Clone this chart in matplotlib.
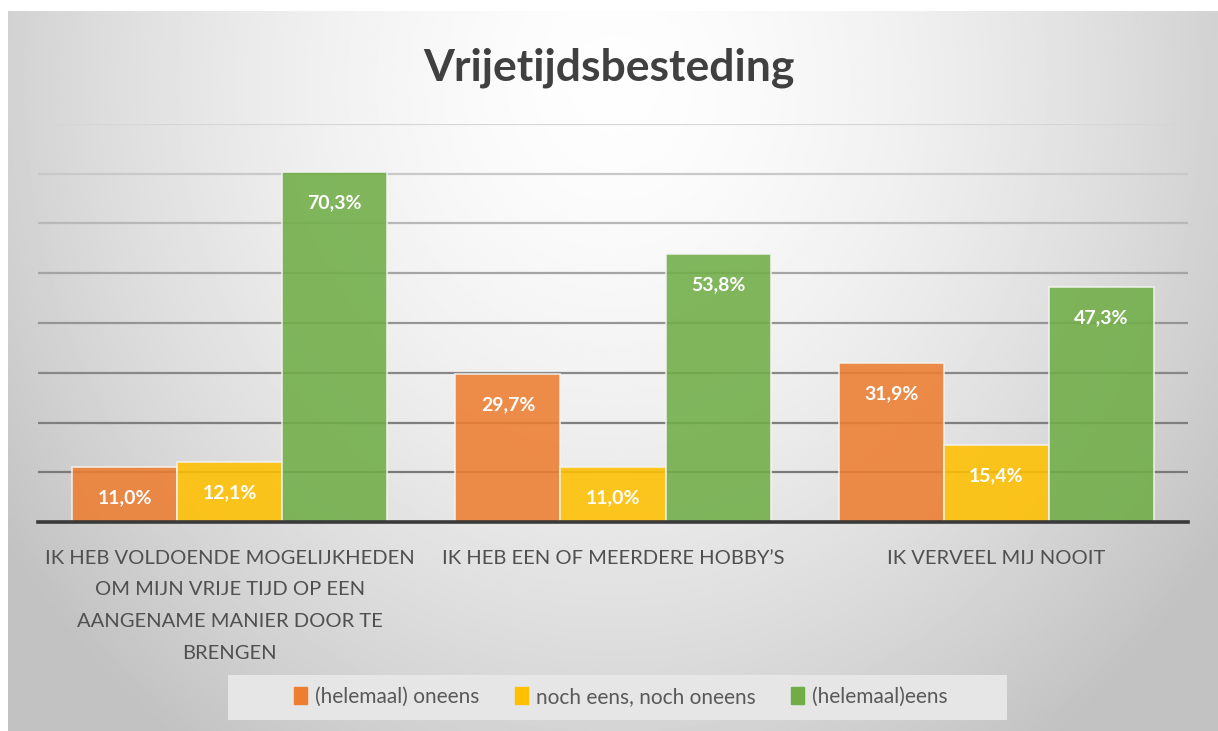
import numpy as np
import matplotlib
import matplotlib.pyplot as plt
from matplotlib.patches import Patch, Rectangle

matplotlib.rcParams['font.family'] = ['Lato', 'DejaVu Sans']

# data
categories = ['IK HEB VOLDOENDE MOGELIJKHEDEN\nOM MIJN VRIJE TIJD OP EEN\nAANGENAME MANIER DOOR TE\nBRENGEN',
              'IK HEB EEN OF MEERDERE HOBBY\u2019S',
              'IK VERVEEL MIJ NOOIT']
series = ['(helemaal) oneens', 'noch eens, noch oneens', '(helemaal)eens']
oneens = [11.0, 29.7, 31.9]
neutraal = [12.1, 11.0, 15.4]
eens = [70.3, 53.8, 47.3]
colors = ['#ED7D31', '#FFC000', '#70AD47']

W, H = 1218, 731
fig = plt.figure(figsize=(W / 100, H / 100), dpi=100)
fig.patch.set_facecolor('white')

# radial grey background
bg = fig.add_axes([8 / W, 0, 1 - 8 / W, 1 - 11 / H])
yy, xx = np.mgrid[0:1:300j, 0:1:500j]
r = np.sqrt(((xx - 0.5) / 0.62) ** 2 + ((yy - 0.1) / 1.15) ** 2)
shade = np.clip(0.995 - 0.24 * r ** 1.6, 0.76, 1)
bg.imshow(shade, cmap='gray', vmin=0, vmax=1, aspect='auto', extent=[0, 1, 1, 0])
bg.axis('off')

ax = fig.add_axes([38 / W, 1 - 522 / H, 1150 / W, (522 - 124) / H])
ax.set_facecolor('none')

x = np.arange(len(categories))
w = 0.274
vals = [oneens, neutraal, eens]
for i, (v, c) in enumerate(zip(vals, colors)):
    bars = ax.bar(x + (i - 1) * w, v, w, color=c, alpha=0.88, edgecolor='#f4f4f4',
                  linewidth=1.2, zorder=3, label=series[i])
    for b, val in zip(bars, v):
        ax.annotate(f'{val:.1f}%'.replace('.', ','), (b.get_x() + w / 2, val),
                    xytext=(0, -16), textcoords='offset points', ha='center', va='top',
                    color='white', fontsize=14, fontweight='bold', zorder=4)

ax.set_ylim(0, 80)
ax.set_xlim(-0.5, 2.5)
ax.set_yticks(np.arange(10, 90, 10))
ax.set_yticklabels([])
ax.tick_params(axis='both', length=0)
ax.grid(axis='y', linewidth=1.6, zorder=0)
greys = ['#7a7a7a', '#7f7f7f', '#888888', '#959595', '#a5a5a5', '#b8b8b8', '#c9c9c9', '#d6d6d6']
for gl, gc in zip(ax.get_ygridlines(), greys):
    gl.set_color(gc)
for s in ['left', 'right', 'top']:
    ax.spines[s].set_visible(False)
ax.spines['bottom'].set_color('#3a3a3a')
ax.spines['bottom'].set_linewidth(2.6)
ax.spines['bottom'].set_zorder(5)

ax.set_xticks(x)
ax.set_xticklabels(categories, fontsize=14.5, color='#505050')
for t in ax.get_xticklabels():
    t.set_linespacing(2.05)
ax.tick_params(axis='x', pad=20)

fig.text(0.5, 1 - 68 / H, 'Vrijetijdsbesteding', ha='center', va='center',
         fontsize=32, fontweight='bold', color='#404040')

# legend with its own light box
fig.add_artist(Rectangle((228 / W, 1 - 720 / H), 779 / W, 45 / H, transform=fig.transFigure,
                         facecolor='#e6e6e6', edgecolor='none', zorder=1))
handles = [Patch(color=c) for c in colors]
leg = fig.legend(handles, series, loc='center', bbox_to_anchor=(621 / W, 1 - 697 / H),
                 ncol=3, frameon=False, fontsize=15, handlelength=0.6, handleheight=0.9,
                 handletextpad=0.4, columnspacing=1.7)
leg.set_zorder(2)
for t in leg.get_texts():
    t.set_color('#595959')

plt.savefig('out.png', dpi=100)
